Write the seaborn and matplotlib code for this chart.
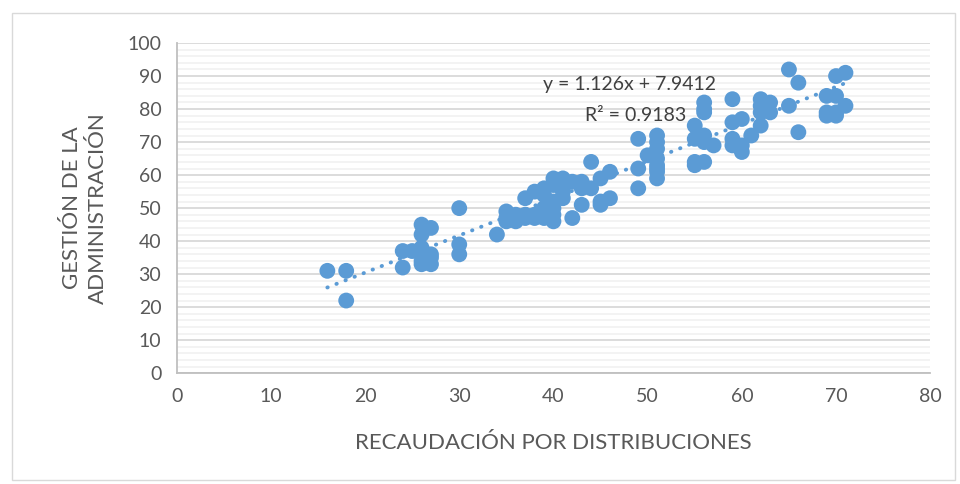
import numpy as np
import pandas as pd
import matplotlib.pyplot as plt
import seaborn as sns
from matplotlib.patches import Rectangle
from matplotlib.ticker import MultipleLocator

recaudacion = [16, 18, 18, 24, 24, 25, 26, 26, 26, 26, 26, 26, 27, 27, 27, 27,
               30, 30, 30, 34, 35, 35, 35, 36, 36, 36, 37, 37, 37, 38, 38, 38,
               39, 39, 39, 39, 40, 40, 40, 40, 40, 40, 41, 41, 41, 41, 42, 42,
               43, 43, 43, 44, 44, 45, 45, 45, 46, 46, 49, 49, 49, 50,
               51, 51, 51, 51, 51, 51, 51, 51, 55, 55, 55, 55,
               56, 56, 56, 56, 56, 56, 57, 59, 59, 59, 59, 60, 60, 60, 61,
               62, 62, 62, 62, 63, 63, 65, 65, 66, 66, 69, 69, 69,
               70, 70, 70, 70, 71, 71]
gestion = [31, 31, 22, 37, 32, 37, 45, 42, 38, 36, 34, 33, 44, 36, 35, 33,
           50, 39, 36, 42, 49, 47, 46, 48, 47, 46, 53, 47, 48, 55, 48, 47,
           56, 54, 50, 47, 59, 57, 52, 50, 46, 48, 59, 56, 53, 55, 58, 47,
           58, 56, 51, 64, 56, 59, 52, 51, 61, 53, 71, 62, 56, 66,
           72, 70, 68, 65, 63, 62, 61, 59, 75, 71, 64, 63,
           82, 80, 79, 72, 70, 64, 69, 83, 76, 71, 69, 77, 69, 67, 72,
           83, 81, 79, 75, 82, 79, 92, 81, 88, 73, 84, 79, 78,
           90, 84, 79, 78, 91, 81]

# linear trend shown in the chart
pendiente = 1.126
intercepto = 7.9412
r2 = 0.9183

df = pd.DataFrame({"x": recaudacion, "y": gestion})

sns.set_style("white")
plt.rcParams['font.family'] = ['Lato', 'DejaVu Sans']

fig = plt.figure(figsize=(9.6, 4.84), dpi=100)
ax = fig.add_axes([0.184, 0.229, 0.785, 0.682])

fig.patches.append(Rectangle((0.012, 0.008), 0.983, 0.965, transform=fig.transFigure,
                             fill=False, edgecolor="#d9d9d9", linewidth=1))

ax.set_xlim(0, 80)
ax.set_ylim(0, 100)
ax.xaxis.set_major_locator(MultipleLocator(10))
ax.yaxis.set_major_locator(MultipleLocator(10))
ax.yaxis.set_minor_locator(MultipleLocator(2))
ax.grid(True, which="major", axis="y", color="#d9d9d9", linewidth=1.3)
ax.grid(True, which="minor", axis="y", color="#f2f2f2", linewidth=1.3)
ax.set_axisbelow(True)

sns.scatterplot(data=df, x="x", y="y", ax=ax, s=130, color="#5b9bd5",
                edgecolor="none", linewidth=0, zorder=3)

xs = np.linspace(min(recaudacion), max(recaudacion), 50)
ax.plot(xs, pendiente * xs + intercepto, linestyle=(0, (0.1, 2.4)), color="#5b9bd5",
        linewidth=2.8, dash_capstyle="round", zorder=2)

ax.text(48.1, 87.3, f"y = {pendiente}x + {intercepto}", fontsize=14, color="#404040",
        ha="center", va="center", zorder=4)
ax.text(54.1, 78.2, f"R² = {r2}", fontsize=14, color="#404040",
        ha="right", va="center", zorder=4)

for side in ["top", "right"]:
    ax.spines[side].set_visible(False)
for side in ["left", "bottom"]:
    ax.spines[side].set_color("#bfbfbf")
    ax.spines[side].set_linewidth(1.3)

ax.tick_params(axis="both", which="major", length=5, width=1.2, color="#bfbfbf",
               labelsize=14, labelcolor="#595959", pad=6, direction="out")
ax.tick_params(axis="y", which="minor", length=0)

ax.set_xlabel("RECAUDACIÓN POR DISTRIBUCIONES", fontsize=16, color="#595959", labelpad=20)
ax.set_ylabel("GESTIÓN DE LA\nADMINISTRACIÓN", fontsize=16, color="#595959", labelpad=14,
              linespacing=1.35)

fig.savefig("out.png", dpi=100)
